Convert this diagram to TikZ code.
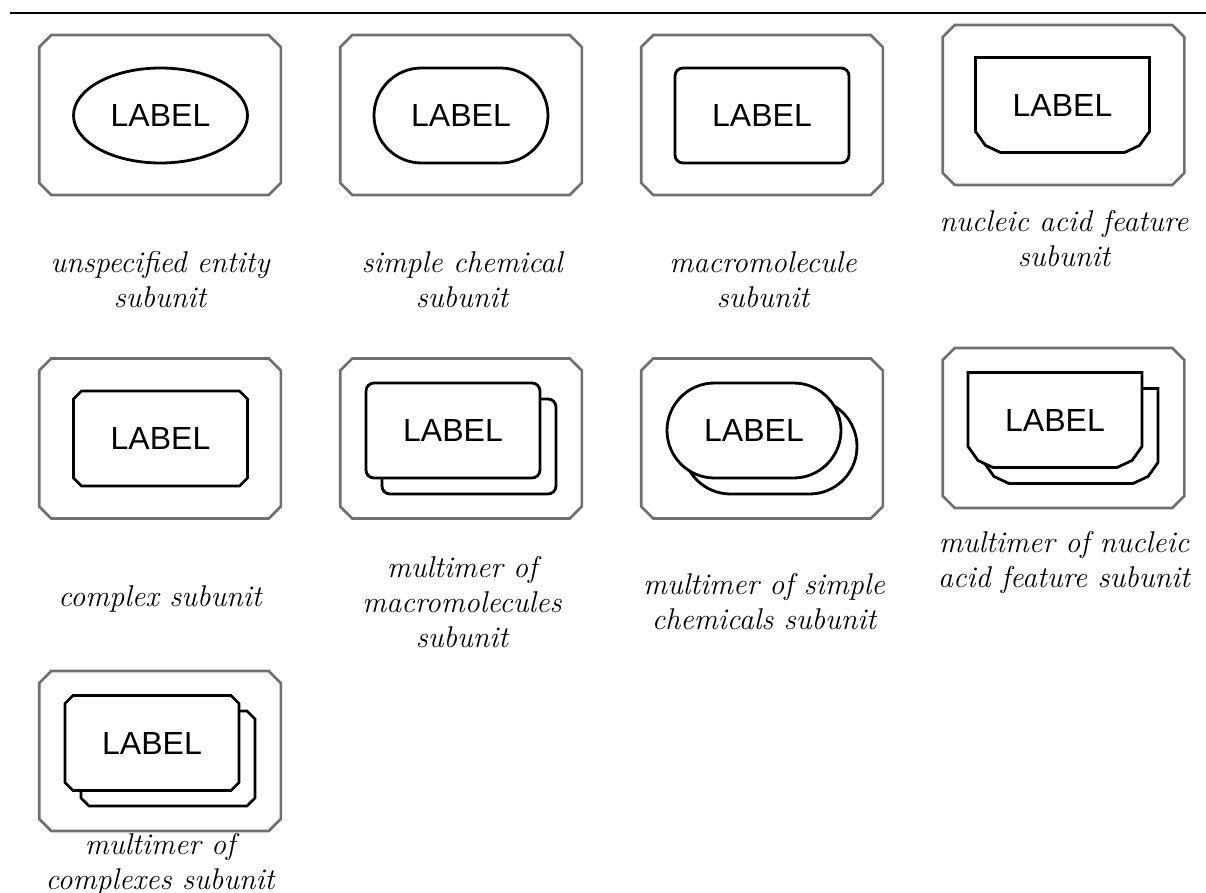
\documentclass[tikz,border=0pt]{standalone}
\usepackage{fontspec}
\usepackage{tikz}
\usetikzlibrary{shapes.geometric,shapes.misc,calc,backgrounds}
\newfontfamily\lblfont{Liberation Sans}
\definecolor{boxgray}{RGB}{112,112,112}
% outline of a nucleic acid feature glyph round node #1
\newcommand\nafpath[1]{(#1.north west) -- ($(#1.south west)+(0,-21)$)
  -- ($(#1.south west)+(10,-7)$) -- ($(#1.south west)+(25,0)$)
  -- ($(#1.south east)+(-25,0)$) -- ($(#1.south east)+(-10,-7)$)
  -- ($(#1.south east)+(0,-21)$) -- (#1.north east) -- cycle}
% rectangle round node #1 with corners cut by #2 px
\newcommand\cutpath[2]{($(#1.north west)+(#2,0)$) -- ($(#1.north east)+(-#2,0)$)
  -- ($(#1.north east)+(0,#2)$) -- ($(#1.south east)+(0,-#2)$)
  -- ($(#1.south east)+(-#2,0)$) -- ($(#1.south west)+(#2,0)$)
  -- ($(#1.south west)+(0,-#2)$) -- ($(#1.north west)+(0,#2)$) -- cycle}

\begin{document}
\begin{tikzpicture}[x=0.5pt, y=-0.5pt,
  outerbox/.style={rectangle, inner sep=0pt, outer sep=0pt,
    minimum width=120.8pt, minimum height=80pt},
  outerline/.style={draw=boxgray, line width=1.3pt},
  glyph/.style={line width=1.4pt, inner sep=0pt, outer sep=0pt,
    minimum width=87pt, minimum height=47.5pt,
    font=\lblfont\fontsize{16}{18}\selectfont},
  glyphline/.style={draw, line width=1.4pt, fill=white},
  entity/.style={glyph, draw, ellipse},
  chem/.style={glyph, draw, fill=white, rounded rectangle},
  macro/.style={glyph, draw, fill=white, rectangle, rounded corners=4pt},
  caption/.style={align=center, font=\itshape\fontsize{15}{17.5}\selectfont}
  ]
  \useasboundingbox (0,0) rectangle (1206,893);
  \coordinate (rule-l) at (10,13);
  \coordinate (rule-r) at (1206,13);
  \draw[line width=1.3pt] (rule-l) -- (rule-r);

  % row 1
  \node[outerbox] (ue-box) at (160,115) {};
  \draw[outerline] \cutpath{ue-box}{12};
  \node[entity] (ue) at (160.5,115.5) {LABEL};
  \node[caption] (ue-cap) at (160,280) {unspecified entity\\subunit};

  \node[outerbox] (sc-box) at (461,115) {};
  \draw[outerline] \cutpath{sc-box}{12};
  \node[chem] (sc) at (461,115.5) {LABEL};
  \node[caption] (sc-cap) at (462,280) {simple chemical\\subunit};

  \node[outerbox] (mm-box) at (762,115) {};
  \draw[outerline] \cutpath{mm-box}{12};
  \node[macro] (mm) at (762,115.5) {LABEL};
  \node[caption] (mm-cap) at (763,280) {macromolecule\\subunit};

  \node[outerbox] (naf-box) at (1063.5,105) {};
  \draw[outerline] \cutpath{naf-box}{12};
  \node[glyph] (naf) at (1062.5,105) {LABEL};
  \draw[line width=1.4pt] \nafpath{naf};
  \node[caption] (naf-cap) at (1064,239) {nucleic acid feature\\subunit};

  % row 2
  \node[outerbox] (cx-box) at (160,438.5) {};
  \draw[outerline] \cutpath{cx-box}{12};
  \node[glyph] (cx) at (160.5,438.5) {LABEL};
  \draw[line width=1.4pt] \cutpath{cx}{8};
  \node[caption] (cx-cap) at (160,599) {complex subunit};

  \node[outerbox] (mmm-box) at (461,438.5) {};
  \draw[outerline] \cutpath{mmm-box}{12};
  \node[macro] (mmm-back) at (469,446.5) {};
  \node[macro] (mmm) at (453,430.5) {LABEL};
  \node[caption] (mmm-cap) at (462,602) {multimer of\\macromolecules\\subunit};

  \node[outerbox] (msc-box) at (762,438.5) {};
  \draw[outerline] \cutpath{msc-box}{12};
  \node[chem] (msc-back) at (770,446.5) {};
  \node[chem] (msc) at (754,430.5) {LABEL};
  \node[caption] (msc-cap) at (764,602) {multimer of simple\\chemicals subunit};

  \node[outerbox] (mnaf-box) at (1063.5,428) {};
  \draw[outerline] \cutpath{mnaf-box}{12};
  \node[glyph] (mnaf-back) at (1071,436) {};
  \node[glyph] (mnaf) at (1055,420) {LABEL};
  \node[caption] (mnaf-cap) at (1064,562.5) {multimer of nucleic\\acid feature subunit};

  % row 3
  \node[outerbox] (mcx-box) at (160,751) {};
  \draw[outerline] \cutpath{mcx-box}{12};
  \node[glyph] (mcx-back) at (168,758.5) {};
  \node[glyph] (mcx) at (152,743) {LABEL};
  \node[caption] (mcx-cap) at (160,864) {multimer of\\complexes subunit};

  \begin{pgfonlayer}{background}
    \draw[glyphline] \nafpath{mnaf-back};
    \draw[glyphline] \nafpath{mnaf};
    \draw[glyphline] \cutpath{mcx-back}{8};
    \draw[glyphline] \cutpath{mcx}{8};
  \end{pgfonlayer}
\end{tikzpicture}
\end{document}
